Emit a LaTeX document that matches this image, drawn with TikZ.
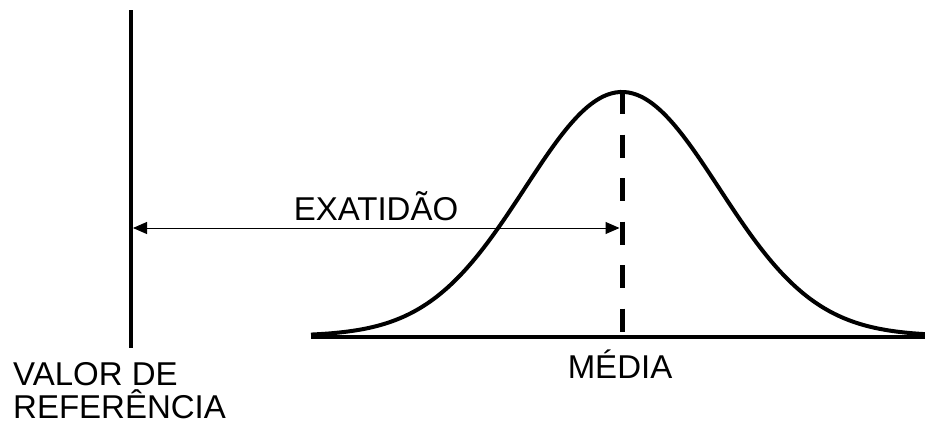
\documentclass[tikz,border=0pt]{standalone}
\usepackage{fontspec}
\setmainfont{Liberation Sans}
\usetikzlibrary{arrows.meta, positioning, calc}

\begin{document}
\begin{tikzpicture}[
    x=1pt, y=-1pt,
    refline/.style={line width=4.5pt},
    baseline/.style={line width=4.5pt},
    curve/.style={line width=4pt},
    meanline/.style={line width=5pt, dash pattern=on 23pt off 20.5pt},
    arrow/.style={{Triangle[length=14pt, width=12pt]}-{Triangle[length=14pt, width=12pt]}, line width=1pt},
    label/.style={inner sep=0pt, font=\fontsize{33}{39}\selectfont}
]
\useasboundingbox (0,0) rectangle (925,423);

\coordinate (refTop) at (131,10);
\coordinate (refBottom) at (131,348);
\coordinate (axisL) at (311,337);
\coordinate (axisR) at (925,337);
\coordinate (peak) at (622,91);
\coordinate (meanFoot) at (622,337);
\coordinate (accL) at (133,228);
\coordinate (accR) at (619.5,228);

\draw[refline] (refTop) -- (refBottom);
\draw[baseline] (axisL) -- (axisR);
\draw[curve] plot[domain=311:925, samples=150, smooth] ({\x},{336-244*exp(-0.5*((\x-622)/97)^2)});
\draw[meanline] (peak) -- (meanFoot);

\draw[arrow] (accL) -- (accR);

\node[label, anchor=base] (exatidao) at (376,220) {EXATIDÃO};
\node[label, anchor=base] (media) at (620,378) {MÉDIA};
\node[label, anchor=base west] (valor) at (13,385) {VALOR DE};
\node[label, anchor=base west] (referencia) at (13,418) {REFERÊNCIA};
\end{tikzpicture}
\end{document}
